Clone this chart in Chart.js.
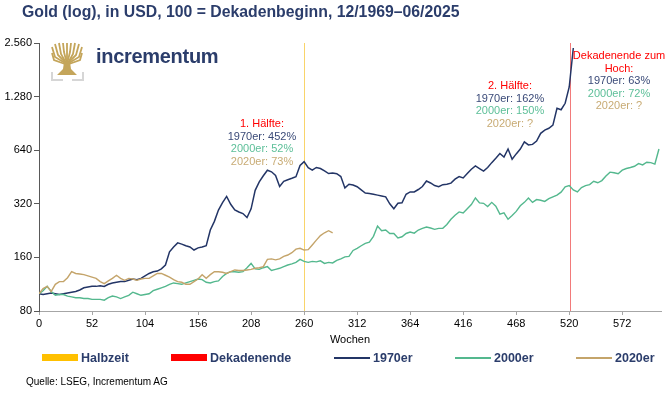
<!DOCTYPE html>
<html>
<head>
<meta charset="utf-8">
<script src="https://cdn.jsdelivr.net/npm/chart.js@4.4.1/dist/chart.umd.min.js"></script>
<style>
  body { margin: 0; background: #fff; font-family: 'Liberation Sans', Arial, sans-serif; }
  #wrap { position: relative; width: 668px; height: 393px; overflow: hidden; }
  #chart { position: absolute; left: 0; top: 0; }
  .title { position: absolute; left: 22px; top: 3px; font-size: 15.8px; font-weight: bold; color: #2b3d6b; white-space: nowrap; }
  .logo-text { position: absolute; left: 96px; top: 45px; font-size: 20px; font-weight: bold; color: #2b3d6b; letter-spacing: -0.3px; }
  .logo-icon { position: absolute; left: 51px; top: 42px; }
  .note { position: absolute; font-size: 11px; line-height: 12.5px; text-align: center; white-space: nowrap; transform: translateX(-50%); }
  .red { color: #ff0000; }
  .c70 { color: #3a4a78; }
  .c00 { color: #5cbf98; }
  .c20 { color: #c8ab74; }
  .axis-title { position: absolute; left: 350px; top: 333px; transform: translateX(-50%); font-size: 11px; color: #000; }
  .leg { position: absolute; top: 351px; font-size: 12.5px; font-weight: bold; color: #2b3d6b; white-space: nowrap; }
  .leg i { display: inline-block; width: 36px; vertical-align: middle; margin-right: 3px; position: relative; top: -1px; }
  .source { position: absolute; left: 26px; top: 376px; font-size: 10px; color: #000; }
</style>
</head>
<body>
<div id="wrap">
  <canvas id="chart" width="668" height="393"></canvas>
  <div class="title">Gold (log), in USD, 100 = Dekadenbeginn, 12/1969–06/2025</div>

  <svg class="logo-icon" width="33" height="40" viewBox="0 0 33 40">
    <g stroke="#c4a55a" stroke-width="1.8" fill="none" stroke-linecap="butt">
      <path d="M16 24 L16 1"/>
      <path d="M16 22 L13 10 L12 1"/>
      <path d="M16 22 L19 10 L20 1"/>
      <path d="M15 21 L10 12 L8 1"/>
      <path d="M17 21 L22 12 L24 1"/>
      <path d="M15 21 L7 13 L4 2"/>
      <path d="M17 21 L25 13 L28 2"/>
      <path d="M14 21 L4 15 L1 5"/>
      <path d="M18 21 L28 15 L31 5"/>
      <path d="M14 22 L3 18 L1 11"/>
      <path d="M18 22 L29 18 L31 11"/>
    </g>
    <path d="M13 20 L19 20 L20 27 L26 33 L6 33 L12 27 Z" fill="#c4a55a"/>
    <g stroke="#d6d6d6" stroke-width="2" fill="none">
      <path d="M1 30 L1 38 L12 38"/>
      <path d="M32 30 L32 38 L21 38"/>
    </g>
  </svg>
  <div class="logo-text">incrementum</div>

  <div class="note" style="left:262px; top:117px;">
    <div class="red">1. Hälfte:</div>
    <div class="c70">1970er: 452%</div>
    <div class="c00">2000er: 52%</div>
    <div class="c20">2020er: 73%</div>
  </div>
  <div class="note" style="left:510px; top:79px;">
    <div class="red">2. Hälfte:</div>
    <div class="c70">1970er: 162%</div>
    <div class="c00">2000er: 150%</div>
    <div class="c20">2020er: ?</div>
  </div>
  <div class="note" style="left:619px; top:49px;">
    <div class="red">Dekadenende zum</div>
    <div class="red">Hoch:</div>
    <div class="c70">1970er: 63%</div>
    <div class="c00">2000er: 72%</div>
    <div class="c20">2020er: ?</div>
  </div>

  <div class="axis-title">Wochen</div>

  <div class="leg" style="left:42px;"><i style="height:7px;background:#ffc000;"></i>Halbzeit</div>
  <div class="leg" style="left:171px;"><i style="height:7px;background:#ff0000;"></i>Dekadenende</div>
  <div class="leg" style="left:334px;"><i style="height:2px;background:#233566;"></i>1970er</div>
  <div class="leg" style="left:455px;"><i style="height:2px;background:#54b88e;"></i>2000er</div>
  <div class="leg" style="left:576px;"><i style="height:2px;background:#c4a46a;"></i>2020er</div>

  <div class="source">Quelle: LSEG, Incrementum AG</div>
</div>

<script>
// weekly samples every 4 weeks, 100 = start of decade
const weekStep = 4;
const halfWeek = 260;
const endWeek = 521;

const xTicks = [0, 52, 104, 156, 208, 260, 312, 364, 416, 468, 520, 572];
const yTicks = [80, 160, 320, 640, 1280, 2560];

const gold70 = [
  100, 99, 100, 101, 100, 99, 100, 101, 102, 103, 105, 108, 109,
  110, 110, 111, 110, 113, 115, 116, 117, 117, 119, 121, 120, 122,
  126, 130, 133, 134, 138, 145, 172, 183, 193, 190, 186, 183, 176,
  181, 183, 186, 228, 255, 295, 325, 352, 318, 296, 288, 282, 268,
  300, 381, 425, 460, 494, 484, 462, 400, 428, 437, 445, 454, 525,
  552, 510, 495, 512, 505, 490, 473, 477, 472, 455, 393, 412, 408,
  399, 383, 368, 366, 362, 358, 354, 350, 320, 300, 322, 324, 362,
  373, 373, 385, 400, 430, 419, 405, 399, 410, 412, 418, 440, 455,
  447, 473, 500, 522, 505, 488, 512, 545, 577, 613, 585, 650, 570,
  610, 650, 712, 685, 690, 720, 796, 830, 850, 885, 1100, 1080, 1174,
  1450, 2400
];

const gold00 = [
  100, 104, 110, 103, 98, 99, 99, 97, 96, 95, 95, 94, 94,
  93, 93, 93, 92, 95, 97, 96, 94, 96, 98, 102, 100, 98,
  99, 100, 104, 106, 108, 110, 113, 115, 114, 113, 115, 117, 119,
  121, 120, 116, 115, 117, 118, 125, 130, 133, 133, 132, 133, 140,
  148, 138, 137, 140, 142, 135, 137, 139, 142, 145, 147, 150, 156,
  152, 150, 152, 151, 153, 148, 150, 149, 154, 157, 161, 162, 175,
  180, 186, 192, 195, 210, 240, 226, 228, 218, 218, 206, 209, 218,
  222, 219, 228, 233, 237, 234, 230, 233, 233, 245, 262, 276, 288,
  284, 300, 317, 345, 324, 322, 309, 326, 310, 280, 285, 262, 275,
  290, 312, 326, 345, 326, 338, 335, 330, 342, 350, 358, 372, 398,
  405, 383, 373, 395, 405, 410, 428, 420, 432, 458, 482, 478, 472,
  494, 505, 512, 520, 538, 529, 548, 545, 535, 650
];

const gold20 = [
  100, 107, 110, 103, 113, 117, 117, 123, 133, 130, 129, 128, 126,
  124, 122, 117, 114, 118, 122, 127, 122, 119, 122, 121, 119, 121,
  122, 122, 126, 130, 130, 127, 124, 120, 117, 116, 113, 113, 117,
  121, 128, 122, 128, 133, 133, 132, 130, 133, 136, 135, 135, 136,
  137, 139, 140, 142, 156, 157, 155, 157, 162, 165, 170, 178, 180,
  176, 177, 188, 200, 212, 220, 226, 220
];

const color70 = '#233566';
const color00 = '#54b88e';
const color20 = '#c4a46a';

function toPoints(values) {
  return values.map((v, i) => ({ x: i * weekStep, y: v }));
}

function fmtDe(v) {
  return String(v).replace(/\B(?=(\d{3})+(?!\d))/g, '.');
}

const markerLines = {
  id: 'markerLines',
  beforeDatasetsDraw(chart) {
    const { ctx, chartArea, scales } = chart;
    const lines = [[halfWeek, '#f9d46a'], [endWeek, '#f27a7a']];
    ctx.save();
    ctx.lineWidth = 1;
    lines.forEach(([w, c]) => {
      const x = Math.round(scales.x.getPixelForValue(w)) + 0.5;
      ctx.strokeStyle = c;
      ctx.beginPath();
      ctx.moveTo(x, chartArea.top);
      ctx.lineTo(x, chartArea.bottom);
      ctx.stroke();
    });
    ctx.restore();
  }
};

const ctx = document.getElementById('chart').getContext('2d');
new Chart(ctx, {
  type: 'line',
  data: {
    datasets: [
      { label: '2020er', data: toPoints(gold20), borderColor: color20, borderWidth: 1.4, pointRadius: 0 },
      { label: '2000er', data: toPoints(gold00), borderColor: color00, borderWidth: 1.4, pointRadius: 0 },
      { label: '1970er', data: toPoints(gold70), borderColor: color70, borderWidth: 1.5, pointRadius: 0 }
    ]
  },
  options: {
    responsive: false,
    animation: false,
    layout: { padding: { top: 43, right: 7, bottom: 52, left: 0 } },
    plugins: { legend: { display: false }, tooltip: { enabled: false } },
    scales: {
      x: {
        type: 'linear',
        min: 0,
        max: 610,
        afterBuildTicks(s) { s.ticks = xTicks.map(v => ({ value: v })); },
        afterFit(s) { s.height = 30; },
        ticks: { color: '#000', font: { family: 'Liberation Sans', size: 11 }, padding: 2, maxRotation: 0 },
        grid: { drawOnChartArea: false, tickLength: 4, color: '#a6a6a6' },
        border: { color: '#a6a6a6' }
      },
      y: {
        type: 'logarithmic',
        min: 80,
        max: 2560,
        afterBuildTicks(s) { s.ticks = yTicks.map(v => ({ value: v })); },
        afterFit(s) { s.width = 39; },
        ticks: { color: '#000', font: { family: 'Liberation Sans', size: 11 }, padding: 2, callback: v => fmtDe(v) },
        grid: { drawOnChartArea: false, tickLength: 5, color: '#595959' },
        border: { color: '#595959' }
      }
    }
  },
  plugins: [markerLines]
});
</script>
</body>
</html>
